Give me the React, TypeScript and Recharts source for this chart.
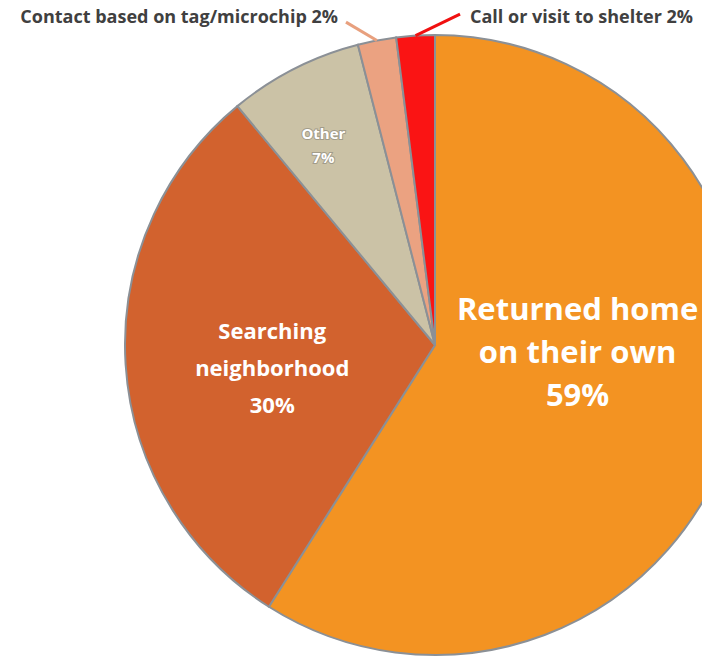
import { PieChart, Pie, Cell } from 'recharts'

// share of lost pets by how they were found
const categories = [
  'Returned home on their own',
  'Searching neighborhood',
  'Other',
  'Contact based on tag/microchip',
  'Call or visit to shelter',
]
const shares = [59, 30, 7, 2, 2]
const colors = ['#F39322', '#D2622E', '#CBC2A6', '#EBA281', '#FA1414']

const chartData = categories.map((name, i) => ({ name, value: shares[i] }))

const RAD = Math.PI / 180

// label layout, as fractions of the radius from the centre
const inside: Record<number, { dx: number; dy: number; size: number; lh: number; lines: string[] }> = {
  0: { dx: 0.46, dy: 0.02, size: 31, lh: 43, lines: ['Returned home', 'on their own'] },
  1: { dx: -0.525, dy: 0.07, size: 22, lh: 37, lines: ['Searching', 'neighborhood'] },
  2: { dx: -0.36, dy: -0.645, size: 15, lh: 24, lines: ['Other'] },
}
const outside: Record<number, { tx: number; ty: number; anchor: 'start' | 'end'; ldx: number; ldy: number; lineColor: string }> = {
  3: { tx: -0.313, ty: -1.061, anchor: 'end', ldx: 8, ldy: 6, lineColor: '#E8A07E' },
  4: { tx: 0.113, ty: -1.061, anchor: 'start', ldx: -10, ldy: -2, lineColor: '#F01010' },
}

function renderLabel(props: any) {
  const { cx, cy, midAngle, outerRadius, index, value } = props
  const r = outerRadius
  if (inside[index]) {
    const cfg = inside[index]
    const x = cx + cfg.dx * r
    const y = cy + cfg.dy * r
    const lines = [...cfg.lines, `${value}%`]
    const top = y - ((lines.length - 1) * cfg.lh) / 2
    const small = index === 2
    return (
      <text
        key={`in-${index}`}
        x={x}
        y={top}
        textAnchor="middle"
        dominantBaseline="central"
        fill="#FFFFFF"
        stroke={small ? '#A29C8A' : 'none'}
        strokeWidth={small ? 2 : 0}
        paintOrder="stroke"
        fontFamily="'Open Sans', sans-serif"
        fontWeight={700}
        fontSize={cfg.size}
      >
        {lines.map((l, k) => (
          <tspan key={k} x={x} dy={k === 0 ? 0 : cfg.lh}>
            {l}
          </tspan>
        ))}
      </text>
    )
  }
  const cfg = outside[index]
  const ex = cx + r * Math.cos(-midAngle * RAD)
  const ey = cy + r * Math.sin(-midAngle * RAD)
  const tx = cx + cfg.tx * r
  const ty = cy + cfg.ty * r
  return (
    <g key={`out-${index}`}>
      <line x1={ex} y1={ey} x2={tx + cfg.ldx} y2={ty + cfg.ldy} stroke={cfg.lineColor} strokeWidth={3} />
      <text
        x={tx}
        y={ty}
        textAnchor={cfg.anchor}
        dominantBaseline="central"
        fill="#404040"
        fontFamily="'Open Sans', sans-serif"
        fontWeight={700}
        fontSize={18}
      >
        {`${categories[index]} ${value}%`}
      </text>
    </g>
  )
}

export default function App() {
  return (
    <div style={{ position: 'absolute', left: 0, top: 0, width: 702, height: 657, background: '#fff' }}>
      <PieChart width={702} height={657} margin={{ top: 0, right: 0, bottom: 0, left: 0 }}>
        <Pie
          data={chartData}
          dataKey="value"
          nameKey="name"
          cx={435}
          cy={345}
          outerRadius={310}
          startAngle={90}
          endAngle={-270}
          label={renderLabel}
          labelLine={false}
          isAnimationActive={false}
        >
          {chartData.map((d, i) => (
            <Cell key={d.name} fill={colors[i]} stroke="#8B9096" strokeWidth={2} />
          ))}
        </Pie>
      </PieChart>
    </div>
  )
}
